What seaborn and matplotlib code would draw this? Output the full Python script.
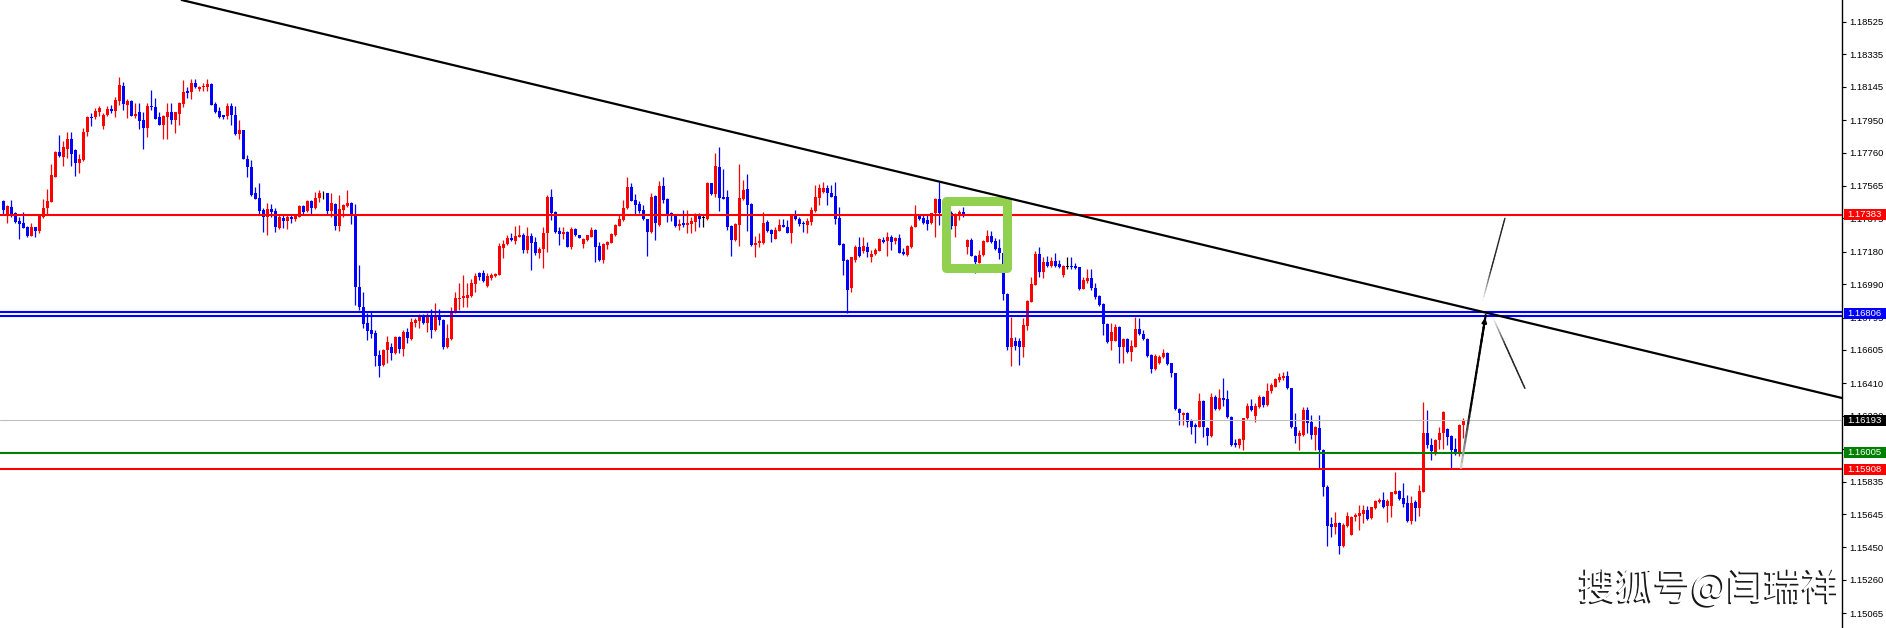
"""EURUSD style candlestick chart with support/resistance levels (MT4 look)."""

import matplotlib
matplotlib.use("Agg")
import matplotlib.pyplot as plt
import matplotlib.patheffects as pe
import numpy as np
import pandas as pd
import seaborn as sns
from matplotlib.collections import LineCollection
from matplotlib.patches import Rectangle
from matplotlib.transforms import blended_transform_factory

# Candles (one per bar, oldest first)
opens = [
    1.17478, 1.17400, 1.17441, 1.17404, 1.17357, 1.17347, 1.17326, 1.17273, 1.17322, 1.17301,
    1.17381, 1.17433, 1.17472, 1.17617, 1.17763, 1.17735, 1.17780, 1.17839, 1.17773, 1.17696,
    1.17716, 1.17882, 1.17969, 1.17966, 1.17999, 1.17917, 1.17979, 1.18012, 1.18003, 1.18063,
    1.18149, 1.18040, 1.18061, 1.17975, 1.17995, 1.17950, 1.17903, 1.18032, 1.18024, 1.17966,
    1.17921, 1.17969, 1.17995, 1.17950, 1.17987, 1.18046, 1.18118, 1.18112, 1.18168, 1.18129,
    1.18141, 1.18145, 1.18161, 1.18046, 1.18003, 1.17977, 1.17973, 1.18034, 1.17977, 1.17868,
    1.17890, 1.17724, 1.17675, 1.17523, 1.17494, 1.17423, 1.17381, 1.17429, 1.17418, 1.17320,
    1.17377, 1.17361, 1.17383, 1.17373, 1.17384, 1.17449, 1.17418, 1.17478, 1.17433, 1.17494,
    1.17521, 1.17521, 1.17418, 1.17457, 1.17330, 1.17423, 1.17447, 1.17466, 1.17398, 1.16975,
    1.16858, 1.16760, 1.16721, 1.16702, 1.16575, 1.16517, 1.16604, 1.16624, 1.16585, 1.16682,
    1.16612, 1.16710, 1.16669, 1.16764, 1.16774, 1.16798, 1.16764, 1.16798, 1.16721, 1.16803,
    1.16780, 1.16620, 1.16669, 1.16829, 1.16903, 1.16907, 1.16911, 1.16922, 1.16989, 1.17053,
    1.17057, 1.16981, 1.17028, 1.17037, 1.17043, 1.17203, 1.17223, 1.17260, 1.17244, 1.17267,
    1.17275, 1.17191, 1.17271, 1.17236, 1.17170, 1.17195, 1.17291, 1.17498, 1.17412, 1.17299,
    1.17285, 1.17295, 1.17209, 1.17314, 1.17275, 1.17223, 1.17248, 1.17267, 1.17306, 1.17215,
    1.17131, 1.17219, 1.17232, 1.17277, 1.17332, 1.17365, 1.17435, 1.17558, 1.17482, 1.17457,
    1.17423, 1.17371, 1.17293, 1.17503, 1.17334, 1.17564, 1.17488, 1.17406, 1.17394, 1.17330,
    1.17347, 1.17334, 1.17342, 1.17353, 1.17390, 1.17379, 1.17373, 1.17581, 1.17517, 1.17675,
    1.17500, 1.17500, 1.17332, 1.17248, 1.17338, 1.17488, 1.17546, 1.17459, 1.17219, 1.17228,
    1.17228, 1.17353, 1.17305, 1.17256, 1.17303, 1.17334, 1.17326, 1.17291, 1.17386, 1.17371,
    1.17347, 1.17336, 1.17351, 1.17420, 1.17492, 1.17529, 1.17550, 1.17521, 1.17505, 1.17377,
    1.17225, 1.17131, 1.16966, 1.17131, 1.17206, 1.17186, 1.17209, 1.17151, 1.17167, 1.17186,
    1.17250, 1.17245, 1.17264, 1.17245, 1.17260, 1.17176, 1.17161, 1.17209, 1.17326, 1.17389,
    1.17375, 1.17365, 1.17346, 1.17404, 1.17488, 1.17385, 1.17414, 1.17404, 1.17332, 1.17399,
    1.17410, 1.17206, 1.17248, 1.17157, 1.17116, 1.17159, 1.17239, 1.17272, 1.17245, 1.17200,
    1.17170, 1.16933, 1.16621, 1.16660, 1.16660, 1.16624, 1.16747, 1.16888, 1.16985, 1.17167,
    1.17063, 1.17122, 1.17098, 1.17126, 1.17106, 1.17044, 1.17092, 1.17096, 1.17096, 1.17089,
    1.16964, 1.17011, 1.17028, 1.16970, 1.16921, 1.16874, 1.16757, 1.16660, 1.16660, 1.16741,
    1.16621, 1.16667, 1.16595, 1.16624, 1.16728, 1.16699, 1.16669, 1.16576, 1.16494, 1.16527,
    1.16562, 1.16589, 1.16527, 1.16468, 1.16260, 1.16225, 1.16234, 1.16192, 1.16164, 1.16156,
    1.16309, 1.16147, 1.16102, 1.16332, 1.16258, 1.16322, 1.16316, 1.16215, 1.16063, 1.16049,
    1.16078, 1.16205, 1.16277, 1.16219, 1.16273, 1.16330, 1.16283, 1.16367, 1.16390, 1.16429,
    1.16441, 1.16453, 1.16381, 1.16156, 1.16104, 1.16108, 1.16254, 1.16186, 1.16108, 1.16147,
    1.16020, 1.15805, 1.15585, 1.15571, 1.15595, 1.15458, 1.15577, 1.15523, 1.15626, 1.15636,
    1.15644, 1.15669, 1.15624, 1.15679, 1.15716, 1.15727, 1.15692, 1.15694, 1.15765, 1.15780,
    1.15737, 1.15708, 1.15607, 1.15718, 1.15681, 1.15776, 1.16117, 1.16049, 1.16010, 1.16078,
    1.16121, 1.16143, 1.16102, 1.16024, 1.16010, 1.16166,
]
highs = [
    1.17482, 1.17453, 1.17482, 1.17414, 1.17381, 1.17412, 1.17330, 1.17345, 1.17326, 1.17394,
    1.17488, 1.17546, 1.17693, 1.17768, 1.17862, 1.17827, 1.17878, 1.17882, 1.17778, 1.17751,
    1.17901, 1.17973, 1.17993, 1.18022, 1.18032, 1.17989, 1.18034, 1.18036, 1.18086, 1.18203,
    1.18172, 1.18075, 1.18067, 1.18051, 1.18051, 1.17995, 1.18051, 1.18125, 1.18077, 1.17999,
    1.17979, 1.18051, 1.18051, 1.17999, 1.18053, 1.18184, 1.18141, 1.18188, 1.18192, 1.18149,
    1.18164, 1.18188, 1.18164, 1.18055, 1.18028, 1.17981, 1.18047, 1.18051, 1.18032, 1.17950,
    1.17892, 1.17747, 1.17716, 1.17560, 1.17579, 1.17435, 1.17462, 1.17457, 1.17433, 1.17394,
    1.17398, 1.17398, 1.17394, 1.17398, 1.17453, 1.17451, 1.17482, 1.17482, 1.17529, 1.17540,
    1.17535, 1.17525, 1.17521, 1.17462, 1.17511, 1.17459, 1.17540, 1.17472, 1.17459, 1.17102,
    1.16946, 1.16819, 1.16835, 1.16721, 1.16604, 1.16612, 1.16688, 1.16647, 1.16686, 1.16686,
    1.16721, 1.16731, 1.16790, 1.16792, 1.16813, 1.16813, 1.16823, 1.16842, 1.16881, 1.16842,
    1.16784, 1.16757, 1.16854, 1.16944, 1.16994, 1.17043, 1.16994, 1.17018, 1.17053, 1.17063,
    1.17072, 1.17053, 1.17053, 1.17057, 1.17232, 1.17248, 1.17277, 1.17291, 1.17330, 1.17334,
    1.17287, 1.17326, 1.17287, 1.17264, 1.17209, 1.17322, 1.17511, 1.17546, 1.17416, 1.17326,
    1.17322, 1.17299, 1.17322, 1.17318, 1.17279, 1.17260, 1.17277, 1.17322, 1.17310, 1.17238,
    1.17232, 1.17244, 1.17291, 1.17342, 1.17394, 1.17482, 1.17618, 1.17583, 1.17517, 1.17476,
    1.17455, 1.17373, 1.17521, 1.17509, 1.17593, 1.17618, 1.17492, 1.17412, 1.17398, 1.17369,
    1.17423, 1.17423, 1.17381, 1.17404, 1.17404, 1.17394, 1.17589, 1.17583, 1.17755, 1.17794,
    1.17661, 1.17540, 1.17336, 1.17345, 1.17695, 1.17599, 1.17634, 1.17463, 1.17271, 1.17287,
    1.17412, 1.17365, 1.17310, 1.17326, 1.17369, 1.17371, 1.17365, 1.17398, 1.17423, 1.17384,
    1.17361, 1.17377, 1.17439, 1.17570, 1.17574, 1.17589, 1.17570, 1.17568, 1.17587, 1.17439,
    1.17228, 1.17135, 1.17151, 1.17219, 1.17264, 1.17264, 1.17237, 1.17190, 1.17200, 1.17258,
    1.17264, 1.17297, 1.17278, 1.17264, 1.17284, 1.17200, 1.17217, 1.17334, 1.17453, 1.17401,
    1.17393, 1.17401, 1.17408, 1.17492, 1.17590, 1.17434, 1.17424, 1.17418, 1.17404, 1.17424,
    1.17443, 1.17252, 1.17262, 1.17161, 1.17190, 1.17248, 1.17307, 1.17301, 1.17258, 1.17252,
    1.17174, 1.16937, 1.16796, 1.16683, 1.16673, 1.16790, 1.16898, 1.17034, 1.17184, 1.17206,
    1.17151, 1.17155, 1.17151, 1.17170, 1.17131, 1.17102, 1.17151, 1.17147, 1.17112, 1.17092,
    1.17034, 1.17077, 1.17077, 1.16995, 1.16925, 1.16878, 1.16765, 1.16761, 1.16757, 1.16745,
    1.16673, 1.16673, 1.16663, 1.16800, 1.16790, 1.16722, 1.16673, 1.16580, 1.16580, 1.16576,
    1.16609, 1.16595, 1.16531, 1.16472, 1.16268, 1.16244, 1.16244, 1.16199, 1.16176, 1.16355,
    1.16313, 1.16156, 1.16355, 1.16342, 1.16375, 1.16439, 1.16371, 1.16219, 1.16082, 1.16088,
    1.16209, 1.16293, 1.16316, 1.16293, 1.16342, 1.16336, 1.16410, 1.16410, 1.16439, 1.16472,
    1.16478, 1.16484, 1.16385, 1.16234, 1.16137, 1.16270, 1.16273, 1.16225, 1.16160, 1.16225,
    1.16024, 1.15815, 1.15630, 1.15655, 1.15601, 1.15591, 1.15659, 1.15634, 1.15653, 1.15698,
    1.15698, 1.15692, 1.15689, 1.15728, 1.15737, 1.15776, 1.15732, 1.15776, 1.15893, 1.15786,
    1.15825, 1.15757, 1.15753, 1.15727, 1.15815, 1.16303, 1.16254, 1.16088, 1.16082, 1.16156,
    1.16248, 1.16147, 1.16108, 1.16088, 1.16172, 1.16205,
]
lows = [
    1.17400, 1.17349, 1.17384, 1.17345, 1.17256, 1.17316, 1.17267, 1.17271, 1.17264, 1.17291,
    1.17379, 1.17400, 1.17472, 1.17615, 1.17735, 1.17681, 1.17726, 1.17681, 1.17624, 1.17638,
    1.17712, 1.17856, 1.17917, 1.17954, 1.17973, 1.17897, 1.17973, 1.17989, 1.17969, 1.18038,
    1.18008, 1.17964, 1.17973, 1.17964, 1.17895, 1.17782, 1.17849, 1.18008, 1.17954, 1.17919,
    1.17841, 1.17841, 1.17927, 1.17874, 1.17919, 1.18028, 1.18077, 1.18071, 1.18137, 1.18122,
    1.18122, 1.18122, 1.18036, 1.17989, 1.17960, 1.17954, 1.17954, 1.17921, 1.17862, 1.17841,
    1.17720, 1.17618, 1.17505, 1.17486, 1.17394, 1.17295, 1.17277, 1.17384, 1.17297, 1.17312,
    1.17316, 1.17314, 1.17349, 1.17359, 1.17381, 1.17398, 1.17414, 1.17400, 1.17427, 1.17472,
    1.17486, 1.17400, 1.17384, 1.17306, 1.17301, 1.17384, 1.17443, 1.17342, 1.16868, 1.16838,
    1.16731, 1.16663, 1.16673, 1.16511, 1.16448, 1.16511, 1.16530, 1.16546, 1.16581, 1.16585,
    1.16571, 1.16647, 1.16663, 1.16739, 1.16731, 1.16755, 1.16710, 1.16675, 1.16716, 1.16753,
    1.16612, 1.16616, 1.16663, 1.16824, 1.16838, 1.16854, 1.16858, 1.16916, 1.16946, 1.17014,
    1.17002, 1.16975, 1.17014, 1.17033, 1.17041, 1.17141, 1.17217, 1.17244, 1.17225, 1.17263,
    1.17174, 1.17174, 1.17072, 1.17162, 1.17141, 1.17086, 1.17180, 1.17365, 1.17287, 1.17219,
    1.17252, 1.17205, 1.17197, 1.17271, 1.17258, 1.17199, 1.17242, 1.17263, 1.17121, 1.17125,
    1.17115, 1.17193, 1.17228, 1.17273, 1.17330, 1.17361, 1.17427, 1.17476, 1.17400, 1.17404,
    1.17365, 1.17154, 1.17287, 1.17248, 1.17330, 1.17462, 1.17355, 1.17361, 1.17326, 1.17306,
    1.17326, 1.17291, 1.17291, 1.17303, 1.17322, 1.17326, 1.17365, 1.17513, 1.17501, 1.17420,
    1.17486, 1.17306, 1.17156, 1.17244, 1.17213, 1.17482, 1.17301, 1.17213, 1.17150, 1.17209,
    1.17225, 1.17297, 1.17238, 1.17252, 1.17301, 1.17322, 1.17287, 1.17228, 1.17365, 1.17330,
    1.17295, 1.17291, 1.17336, 1.17414, 1.17453, 1.17525, 1.17453, 1.17498, 1.17342, 1.17217,
    1.17043, 1.16819, 1.16946, 1.17118, 1.17151, 1.17170, 1.17151, 1.17122, 1.17163, 1.17182,
    1.17229, 1.17155, 1.17190, 1.17223, 1.17170, 1.17161, 1.17155, 1.17204, 1.17323, 1.17365,
    1.17342, 1.17307, 1.17342, 1.17264, 1.17336, 1.17356, 1.17385, 1.17313, 1.17264, 1.17365,
    1.17385, 1.17167, 1.17155, 1.17057, 1.17112, 1.17155, 1.17235, 1.17229, 1.17190, 1.17135,
    1.16898, 1.16605, 1.16513, 1.16605, 1.16517, 1.16566, 1.16722, 1.16886, 1.16983, 1.17034,
    1.17024, 1.17092, 1.17092, 1.17092, 1.17083, 1.17034, 1.17077, 1.17079, 1.17077, 1.16956,
    1.16960, 1.16995, 1.16956, 1.16901, 1.16864, 1.16693, 1.16644, 1.16605, 1.16655, 1.16531,
    1.16531, 1.16589, 1.16543, 1.16621, 1.16693, 1.16664, 1.16566, 1.16472, 1.16488, 1.16523,
    1.16558, 1.16517, 1.16449, 1.16254, 1.16166, 1.16166, 1.16156, 1.16114, 1.16063, 1.16152,
    1.16098, 1.16049, 1.16094, 1.16254, 1.16254, 1.16277, 1.16205, 1.16043, 1.16039, 1.16030,
    1.16020, 1.16199, 1.16250, 1.16186, 1.16264, 1.16273, 1.16279, 1.16355, 1.16387, 1.16420,
    1.16429, 1.16375, 1.16147, 1.16059, 1.16020, 1.16102, 1.16117, 1.16082, 1.16020, 1.15913,
    1.15753, 1.15460, 1.15513, 1.15529, 1.15412, 1.15455, 1.15571, 1.15521, 1.15607, 1.15552,
    1.15595, 1.15611, 1.15618, 1.15675, 1.15708, 1.15683, 1.15601, 1.15630, 1.15763, 1.15727,
    1.15688, 1.15597, 1.15585, 1.15607, 1.15636, 1.15772, 1.16034, 1.15961, 1.15991, 1.16024,
    1.16024, 1.16049, 1.15913, 1.15991, 1.15985, 1.16088,
]
closes = [
    1.17423, 1.17449, 1.17388, 1.17353, 1.17342, 1.17320, 1.17273, 1.17324, 1.17303, 1.17390,
    1.17435, 1.17476, 1.17626, 1.17763, 1.17739, 1.17792, 1.17839, 1.17751, 1.17696, 1.17722,
    1.17880, 1.17968, 1.17962, 1.18001, 1.18018, 1.17979, 1.18014, 1.18005, 1.18067, 1.18153,
    1.18044, 1.18061, 1.17975, 1.17985, 1.17946, 1.17905, 1.18032, 1.18024, 1.17958, 1.17923,
    1.17973, 1.17997, 1.17950, 1.17997, 1.18049, 1.18116, 1.18108, 1.18168, 1.18141, 1.18145,
    1.18151, 1.18161, 1.18040, 1.17997, 1.17966, 1.17966, 1.18032, 1.17977, 1.17868, 1.17890,
    1.17722, 1.17675, 1.17511, 1.17490, 1.17418, 1.17381, 1.17429, 1.17414, 1.17326, 1.17381,
    1.17361, 1.17383, 1.17373, 1.17392, 1.17449, 1.17414, 1.17476, 1.17437, 1.17496, 1.17521,
    1.17521, 1.17418, 1.17462, 1.17330, 1.17427, 1.17451, 1.17466, 1.17398, 1.16975, 1.16858,
    1.16757, 1.16718, 1.16698, 1.16569, 1.16511, 1.16604, 1.16651, 1.16585, 1.16682, 1.16612,
    1.16710, 1.16673, 1.16768, 1.16780, 1.16798, 1.16764, 1.16798, 1.16721, 1.16805, 1.16780,
    1.16620, 1.16673, 1.16833, 1.16907, 1.16909, 1.16922, 1.16926, 1.16994, 1.17037, 1.17033,
    1.17008, 1.17037, 1.17045, 1.17051, 1.17213, 1.17223, 1.17262, 1.17246, 1.17271, 1.17277,
    1.17191, 1.17271, 1.17232, 1.17170, 1.17195, 1.17291, 1.17498, 1.17408, 1.17297, 1.17285,
    1.17293, 1.17209, 1.17314, 1.17275, 1.17262, 1.17254, 1.17275, 1.17308, 1.17209, 1.17131,
    1.17225, 1.17236, 1.17281, 1.17336, 1.17371, 1.17435, 1.17558, 1.17478, 1.17453, 1.17418,
    1.17369, 1.17295, 1.17500, 1.17345, 1.17564, 1.17482, 1.17400, 1.17394, 1.17330, 1.17342,
    1.17334, 1.17349, 1.17359, 1.17394, 1.17373, 1.17379, 1.17581, 1.17517, 1.17681, 1.17494,
    1.17490, 1.17324, 1.17248, 1.17340, 1.17496, 1.17540, 1.17455, 1.17217, 1.17230, 1.17242,
    1.17349, 1.17301, 1.17283, 1.17306, 1.17336, 1.17326, 1.17291, 1.17388, 1.17369, 1.17342,
    1.17340, 1.17357, 1.17422, 1.17498, 1.17550, 1.17550, 1.17521, 1.17501, 1.17371, 1.17219,
    1.17127, 1.16955, 1.17147, 1.17206, 1.17155, 1.17213, 1.17180, 1.17169, 1.17190, 1.17252,
    1.17239, 1.17264, 1.17239, 1.17260, 1.17174, 1.17167, 1.17213, 1.17326, 1.17399, 1.17373,
    1.17350, 1.17342, 1.17404, 1.17488, 1.17404, 1.17414, 1.17404, 1.17332, 1.17395, 1.17414,
    1.17395, 1.17248, 1.17157, 1.17118, 1.17159, 1.17245, 1.17272, 1.17239, 1.17196, 1.17170,
    1.16933, 1.16621, 1.16673, 1.16628, 1.16624, 1.16751, 1.16894, 1.16991, 1.17167, 1.17063,
    1.17118, 1.17098, 1.17126, 1.17096, 1.17089, 1.17096, 1.17092, 1.17092, 1.17083, 1.16964,
    1.17014, 1.17028, 1.16966, 1.16917, 1.16868, 1.16757, 1.16650, 1.16712, 1.16741, 1.16621,
    1.16667, 1.16595, 1.16628, 1.16728, 1.16697, 1.16667, 1.16572, 1.16494, 1.16572, 1.16562,
    1.16585, 1.16523, 1.16468, 1.16260, 1.16234, 1.16238, 1.16186, 1.16156, 1.16156, 1.16309,
    1.16156, 1.16102, 1.16332, 1.16258, 1.16322, 1.16312, 1.16215, 1.16049, 1.16049, 1.16082,
    1.16205, 1.16277, 1.16254, 1.16277, 1.16332, 1.16283, 1.16367, 1.16400, 1.16433, 1.16449,
    1.16453, 1.16381, 1.16153, 1.16104, 1.16117, 1.16254, 1.16176, 1.16108, 1.16153, 1.16020,
    1.15802, 1.15577, 1.15571, 1.15595, 1.15460, 1.15581, 1.15634, 1.15630, 1.15640, 1.15649,
    1.15669, 1.15616, 1.15685, 1.15724, 1.15727, 1.15688, 1.15724, 1.15772, 1.15780, 1.15733,
    1.15704, 1.15605, 1.15708, 1.15683, 1.15778, 1.16117, 1.16049, 1.16016, 1.16078, 1.16121,
    1.16244, 1.16098, 1.16020, 1.16010, 1.16166, 1.16193,
]

# Horizontal levels drawn on the chart
level_prices = [1.17394, 1.16826, 1.16806, 1.16193, 1.16005, 1.15908]
level_colors = ["#ff0000", "#0000ff", "#0000ff", "#c0c0c0", "#008000", "#ff0000"]
level_widths = [1.5, 1.5, 1.5, 0.8, 1.5, 1.5]

# Price axis ticks (MT4 style)
axis_ticks = [1.18525, 1.18335, 1.18145, 1.17950, 1.17760, 1.17565, 1.17375, 1.17180,
              1.16990, 1.16795, 1.16605, 1.16410, 1.16220, 1.16025, 1.15835, 1.15645,
              1.15450, 1.15260, 1.15065]

# Coloured price tags on the axis
tag_texts = ["1.17383", "1.16806", "1.16193", "1.16005", "1.15908"]
tag_prices = [1.17396, 1.16818, 1.16193, 1.16005, 1.15908]
tag_colors = ["#ff0000", "#0000ff", "#000000", "#008000", "#ff0000"]

# Drawn objects: trend line, projection arrows, highlight box (bar index, price)
trend_x = [44.6, 459.7]
trend_y = [1.18652, 1.16324]
arrow_up_x = [364.4, 370.6]
arrow_up_y = [1.15915, 1.16810]
arrow_ext_x = [369.9, 375.4]
arrow_ext_y = [1.16897, 1.17375]
arrow_down_x = [372.5, 380.4]
arrow_down_y = [1.16790, 1.16381]
box_x = [235.7, 250.9]
box_y = [1.17085, 1.17474]

WATERMARK = "搜狐号@闫瑞祥"


def fade_line(ax, xs, ys, lw, start_rgb, end_rgb, n=24, zorder=6):
    """Straight segment whose colour fades from start_rgb to end_rgb."""
    t = np.linspace(0, 1, n + 1)
    px = xs[0] + (xs[1] - xs[0]) * t
    py = ys[0] + (ys[1] - ys[0]) * t
    segs = np.stack([np.column_stack([px[:-1], py[:-1]]),
                     np.column_stack([px[1:], py[1:]])], axis=1)
    mid = (t[:-1] + t[1:]) / 2
    c0, c1 = np.array(start_rgb), np.array(end_rgb)
    cols = c0 + (c1 - c0) * np.clip(mid * 2.5, 0, 1)[:, None]
    ax.add_collection(LineCollection(segs, colors=cols, linewidths=lw,
                                     zorder=zorder, capstyle="round"))


sns.set_theme(style="white")
plt.rcParams["font.family"] = ["Liberation Sans", "DejaVu Sans"]

df = pd.DataFrame({"open": opens, "high": highs, "low": lows, "close": closes})
df["idx"] = np.arange(len(df))
df["color"] = np.where(df["close"] > df["open"], "#ff0000",
                       np.where(df["close"] < df["open"], "#0000ff", "#000000"))
df["bottom"] = df[["open", "close"]].min(axis=1)
df["body"] = (df["close"] - df["open"]).abs().clip(lower=0.00003)

fig = plt.figure(figsize=(18.86, 6.28), dpi=100)
fig.patch.set_facecolor("white")
ax = fig.add_axes([0, 0, 1842 / 1886, 1])
ax.set_facecolor("white")

ax.vlines(df["idx"], df["low"], df["high"], colors=df["color"], linewidth=0.9, zorder=2)
ax.bar(df["idx"], df["body"], bottom=df["bottom"], width=0.75, color=df["color"],
       linewidth=0, zorder=2)

for price, color, lw in zip(level_prices, level_colors, level_widths):
    ax.axhline(price, color=color, linewidth=lw, zorder=3)

ax.add_patch(Rectangle((box_x[0], box_y[0]), box_x[1] - box_x[0], box_y[1] - box_y[0],
                       fill=False, edgecolor="#92d050", linewidth=6.5,
                       joinstyle="round", zorder=4))

ax.plot(trend_x, trend_y, color="black", linewidth=1.6, zorder=5)

fade_line(ax, arrow_up_x, arrow_up_y, 1.6, (0.85, 0.85, 0.85), (0, 0, 0))
ax.annotate("", xy=(arrow_up_x[1], arrow_up_y[1]),
            xytext=(arrow_up_x[0] + 0.8 * (arrow_up_x[1] - arrow_up_x[0]),
                    arrow_up_y[0] + 0.8 * (arrow_up_y[1] - arrow_up_y[0])),
            arrowprops=dict(arrowstyle="-|>", color="black", lw=1.4, mutation_scale=7),
            zorder=6)
fade_line(ax, arrow_ext_x, arrow_ext_y, 1.0, (1, 1, 1), (0.15, 0.15, 0.15))
fade_line(ax, arrow_down_x, arrow_down_y, 1.1, (1, 1, 1), (0.15, 0.15, 0.15))

ax.set_xlim(-0.825, 459.675)
ax.set_ylim(1.14979, 1.18652)

for side in ["left", "top", "bottom"]:
    ax.spines[side].set_visible(False)
ax.spines["right"].set_color("black")
ax.spines["right"].set_linewidth(1.0)
ax.set_xticks([])
ax.yaxis.tick_right()
ax.set_yticks(axis_ticks)
ax.set_yticklabels([f"{t:.5f}" for t in axis_ticks])
ax.tick_params(axis="y", direction="out", length=3, width=0.8, colors="black",
               labelsize=6.8, pad=2)
ax.grid(False)

trans = blended_transform_factory(ax.transAxes, ax.transData)
tag_h = 11 * (1.18652 - 1.14979) / 628
for text, price, color in zip(tag_texts, tag_prices, tag_colors):
    ax.add_patch(Rectangle((1.0011, price - tag_h / 2), 44 / 1842, tag_h,
                           transform=trans, facecolor=color, edgecolor="none",
                           clip_on=False, zorder=8))
    ax.text(1.0030, price, text, transform=trans, color="white", fontsize=6.8,
            ha="left", va="center", clip_on=False, zorder=9)

fig.text(1709 / 1886, 1 - 589 / 628, WATERMARK, family=["Noto Sans CJK SC", "DejaVu Sans"],
         fontsize=27, color="white", ha="center", va="center", zorder=10,
         path_effects=[pe.SimplePatchShadow(offset=(-1.2, -1.2), shadow_rgbFace="black",
                                            alpha=0.9),
                       pe.Normal()])

fig.savefig("out.png", dpi=100, facecolor="white")
